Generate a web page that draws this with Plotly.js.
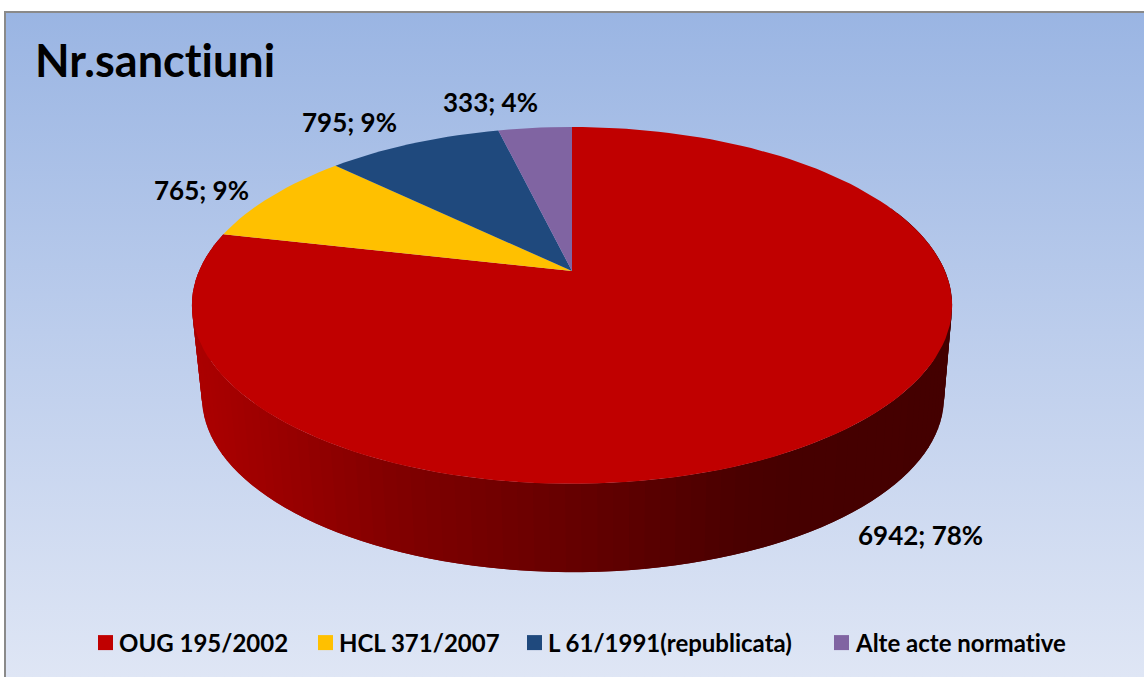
<!DOCTYPE html>
<html>
<head>
<meta charset="utf-8">
<script src="https://cdn.plot.ly/plotly-3.0.1.min.js"></script>
<style>
html,body{margin:0;padding:0;width:1144px;height:677px;background:#fff;overflow:hidden}
#panel{position:absolute;left:4px;top:11px;width:1138px;height:664px;border-left:2px solid #8a8a8a;border-top:2px solid #8a8a8a;
background:linear-gradient(180deg,#9ab5e3 0%,#bccdec 48%,#dfe6f5 100%)}
#chart{position:absolute;left:0;top:0;width:1144px;height:677px}
#chart text{font-variant-ligatures:none;font-feature-settings:"liga" 0}
</style>
</head>
<body>
<div id="panel"></div>
<div id="chart"></div>
<script>
const categories = ['OUG 195/2002','HCL 371/2007','L 61/1991(republicata)','Alte acte normative'];
const values = [6942,765,795,333];
const percents = [78,9,9,4];
const chartTitle = 'Nr.sanctiuni';

const palette = ['#C00000','#FFC000','#1F497D','#8064A2'];
const total = values.reduce((a,b)=>a+b,0);
const FONT = 'Lato, "Open Sans", sans-serif';
const topFace = {cx:572, cy:271, a:373, b:171.8, k:0.193};
const baseFace = {cx:573, cy:364, a:364, b:168, k:0.193};

function perim(deg, g){
  const t = deg*Math.PI/180, u = Math.sin(t), v = Math.cos(t), d = 1+g.k*v;
  return [g.cx+g.a*u/d, g.cy-g.b*v/d];
}
function wallColor(x){
  const xs=[200,400,570,740,800,950], rs=[170,128,102,74,70,68];
  let r=rs[rs.length-1];
  if(x<=xs[0]) r=rs[0];
  else for(let i=0;i<xs.length-1;i++) if(x>=xs[i]&&x<=xs[i+1]){
    r=rs[i]+(rs[i+1]-rs[i])*(x-xs[i])/(xs[i+1]-xs[i]); break;
  }
  return 'rgb('+Math.round(r)+',0,0)';
}

const traces = [];
const STEP = 2;
let start = 0;
const spans = values.map(v=>{const s=[start,start+v/total*360]; start=s[1]; return s;});

// side wall of the largest slice, front part only
const wallSpan = spans[0];
for(let d=wallSpan[1]; d>=Math.max(wallSpan[0],70); d-=STEP){
  const e = d-STEP*2;
  const p=[perim(d,topFace),perim(e,topFace),perim(e,baseFace),perim(d,baseFace)];
  traces.push({type:'scatter',mode:'lines',fill:'toself',line:{width:0},
    fillcolor:wallColor(perim(d-STEP/2,topFace)[0]),
    x:p.map(q=>q[0]).concat(p[0][0]),y:p.map(q=>q[1]).concat(p[0][1]),
    showlegend:false,hoverinfo:'skip'});
}
// top faces
spans.forEach((s,i)=>{
  const xs=[topFace.cx], ys=[topFace.cy];
  const n=Math.max(2,Math.ceil((s[1]-s[0])/STEP));
  for(let j=0;j<=n;j++){const p=perim(s[0]+(s[1]-s[0])*j/n,topFace); xs.push(p[0]); ys.push(p[1]);}
  xs.push(topFace.cx); ys.push(topFace.cy);
  traces.push({type:'scatter',mode:'lines',fill:'toself',fillcolor:palette[i],line:{width:0,color:palette[i]},
    x:xs,y:ys,name:categories[i],showlegend:false,
    text:categories[i]+': '+values[i],hoverinfo:'text'});
});
// legend keys
categories.forEach((c,i)=>{
  traces.push({type:'scatter',mode:'markers',x:[null],y:[null],name:c,
    marker:{symbol:'square',size:15,color:palette[i]},hoverinfo:'skip'});
});

const labelAnchors = [[920.5,535],[201,190],[349,122],[490,102]];
const annotations = values.map((v,i)=>({
  x:labelAnchors[i][0],y:labelAnchors[i][1],xref:'x',yref:'y',showarrow:false,
  text:v+'; '+percents[i]+'%',font:{family:FONT,size:26,color:'#000',weight:700}
}));

const layout = {
  width:1144,height:677,margin:{l:0,r:0,t:0,b:0},
  paper_bgcolor:'rgba(0,0,0,0)',plot_bgcolor:'rgba(0,0,0,0)',
  title:{text:chartTitle,x:35/1144,xanchor:'left',xref:'paper',y:1-61/677,yanchor:'middle',yref:'paper',
    font:{family:FONT,size:45,color:'#000',weight:700}},
  xaxis:{range:[0,1144],visible:false,fixedrange:true},
  yaxis:{range:[677,0],visible:false,fixedrange:true},
  showlegend:true,
  legend:{orientation:'h',x:70/1144,xanchor:'left',y:1-643/677,yanchor:'middle',
    bgcolor:'rgba(0,0,0,0)',font:{family:FONT,size:24,color:'#000',weight:700},itemclick:false,itemdoubleclick:false},
  annotations:annotations
};
const legendTextLeft = [119,339,548,855];
Plotly.newPlot('chart',traces,layout,{displayModeBar:false}).then(gd=>{
  const box = gd.querySelector('.legend .scrollbox');
  if(box) box.removeAttribute('clip-path');
  gd.querySelectorAll('.legend .traces').forEach((g,i)=>{
    const t = g.querySelector('text');
    const dx = legendTextLeft[i]-t.getBoundingClientRect().left;
    const m = g.getAttribute('transform').match(/translate\(([-\d.]+)[, ]+([-\d.]+)\)/);
    g.setAttribute('transform','translate('+(parseFloat(m[1])+dx)+','+m[2]+')');
    const sym = g.querySelector('.legendsymbols');
    const pt = g.querySelector('.legendpoints path');
    if(sym&&pt){
      const gap = (t.getBoundingClientRect().left-6)-pt.getBoundingClientRect().right;
      sym.setAttribute('transform','translate('+gap+',0)');
    }
  });
});
</script>
</body>
</html>
